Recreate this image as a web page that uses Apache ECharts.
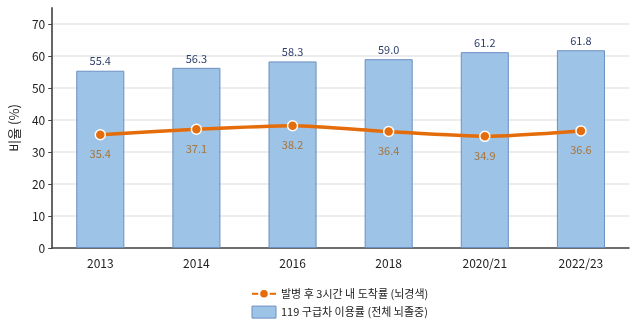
<!DOCTYPE html>
<html>
<head>
    <meta charset="utf-8">
    <title>ECharts</title>
    <script type="text/javascript" src="https://cdn.jsdelivr.net/npm/echarts@6/dist/echarts.min.js"></script>
</head>
<body style="margin:0">
    <div id="main" style="width: 640px;height:330px;"></div>
    <script type="text/javascript">
    var years = ['2013', '2014', '2016', '2018', '2020/21', '2022/23'];
    var useRate = [55.4, 56.3, 58.3, 59.0, 61.2, 61.8];
    var arriveRate = [35.4, 37.1, 38.2, 36.4, 34.9, 36.6];
    var yTicks = [0, 10, 20, 30, 40, 50, 60, 70];

    var myChart = echarts.init(document.getElementById('main'));
    var font = '"Noto Sans CJK KR", "Noto Sans", sans-serif';

    var option = {
        animation: false,
        textStyle: { fontFamily: font },
        grid: { left: 48, right: 11, top: 8, bottom: 82 },
        legend: {
            orient: 'vertical',
            left: 246,
            top: 283,
            itemGap: 6,
            itemWidth: 24,
            itemHeight: 12,
            textStyle: { fontSize: 11, color: '#222', fontFamily: font },
            data: [
                { name: '발병 후 3시간 내 도착률 (뇌경색)' },
                { name: '119 구급차 이용률 (전체 뇌졸중)', icon: 'rect', itemStyle: { borderWidth: 1 } }
            ]
        },
        xAxis: {
            type: 'category',
            data: years,
            axisLine: { lineStyle: { color: '#444', width: 1.5 } },
            axisTick: { alignWithLabel: true, lineStyle: { color: '#444' } },
            axisLabel: { color: '#222', fontSize: 12, margin: 9, fontFamily: font }
        },
        yAxis: {
            type: 'value',
            min: 0,
            max: 75,
            interval: 10,
            name: '비율 (%)',
            nameLocation: 'middle',
            nameGap: 30,
            nameTextStyle: { fontSize: 13, color: '#222', fontFamily: font },
            axisLine: { show: true, lineStyle: { color: '#666', width: 2 } },
            axisTick: { show: true, length: 4, customValues: yTicks, lineStyle: { color: '#444' } },
            axisLabel: { color: '#222', fontSize: 12, margin: 7, customValues: yTicks, fontFamily: font },
            splitLine: { lineStyle: { color: '#e6e6e6', width: 1.5 } }
        },
        series: [
            {
                name: '119 구급차 이용률 (전체 뇌졸중)',
                type: 'bar',
                barWidth: '50%',
                itemStyle: { color: '#9dc3e6', borderColor: '#6b8fc2', borderWidth: 1 },
                label: {
                    show: true,
                    position: 'top',
                    distance: 4,
                    color: '#2f3f6b',
                    fontSize: 11,
                    fontFamily: font,
                    formatter: function (p) { return p.value.toFixed(1); }
                },
                data: useRate
            },
            {
                name: '발병 후 3시간 내 도착률 (뇌경색)',
                type: 'line',
                smooth: 0.2,
                symbol: 'circle',
                symbolSize: 10,
                lineStyle: { color: '#e46c0a', width: 3.5 },
                itemStyle: { color: '#e46c0a', borderColor: '#fff', borderWidth: 1.5 },
                label: {
                    show: true,
                    position: 'bottom',
                    distance: 8,
                    color: '#a8743a',
                    fontSize: 11,
                    fontFamily: font,
                    formatter: function (p) { return p.value.toFixed(1); }
                },
                data: arriveRate
            }
        ]
    };
    myChart.setOption(option);
    </script>
</body>
</html>
